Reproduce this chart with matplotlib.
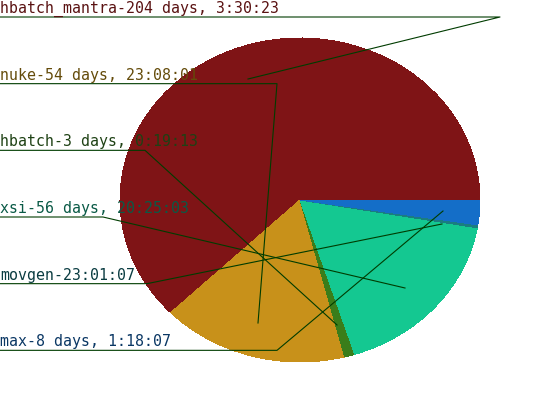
import matplotlib
matplotlib.use('Agg')
import matplotlib.pyplot as plt

# job names and their total run time, as printed on the chart
jobs = ['hbatch_mantra', 'nuke', 'hbatch', 'xsi', 'movgen', 'max']
durations = ['204 days, 3:30:23', '54 days, 23:08:01', '3 days, 0:19:13',
             '56 days, 20:25:03', '23:01:07', '8 days, 1:18:07']

slice_colors = ['#7f1416', '#c8911a', '#3a7d1a', '#14c891', '#1a7d80', '#146ec8']
text_colors = ['#5a1212', '#644b0a', '#1e4114', '#0a5a46', '#0a3c41', '#0a3764']
line_color = '#003c00'

# label layout (pixels): end of underline, and where the leader line points to
underline_end = [500, 277, 145, 103, 147, 277]
leader_tip = [(248, 79), (258, 323), (337, 325), (405, 288), (442, 224), (443, 211)]


def to_hours(s):
    days = 0
    if 'days' in s:
        d, s = s.split('days,')
        days = int(d)
    h, m, sec = [int(x) for x in s.strip().split(':')]
    return days * 24 + h + m / 60 + sec / 3600


hours = [to_hours(d) for d in durations]

W, H = 533, 400
fig = plt.figure(figsize=(W / 100, H / 100), dpi=100)

# pie sits in its own axes so it can be squashed into an ellipse
cx, cy, rx, ry = 300, 200, 180, 162
pie_ax = fig.add_axes([(cx - rx) / W, 1 - (cy + ry) / H, 2 * rx / W, 2 * ry / H])
wedges, _ = pie_ax.pie(hours, colors=slice_colors, startangle=0, counterclock=True,
                       radius=1, wedgeprops={'linewidth': 0, 'antialiased': False})
pie_ax.set_aspect('auto')
pie_ax.set_xlim(-1, 1)
pie_ax.set_ylim(-1, 1)
pie_ax.axis('off')

# overlay in pixel coordinates for labels and leader lines
ov = fig.add_axes([0, 0, 1, 1])
ov.set_xlim(0, W)
ov.set_ylim(H, 0)
ov.axis('off')
ov.patch.set_alpha(0)

step = H / len(jobs)
for i, job in enumerate(jobs):
    y = 17 + i * step
    ov.text(0, y - 4, f'{job}-{durations[i]}', color=text_colors[i],
            fontsize=10.7, family='DejaVu Sans Mono', ha='left', va='baseline')
    ov.plot([0, underline_end[i], leader_tip[i][0]], [y, y, leader_tip[i][1]],
            color=line_color, linewidth=0.8)

fig.savefig('out.png', dpi=100)
